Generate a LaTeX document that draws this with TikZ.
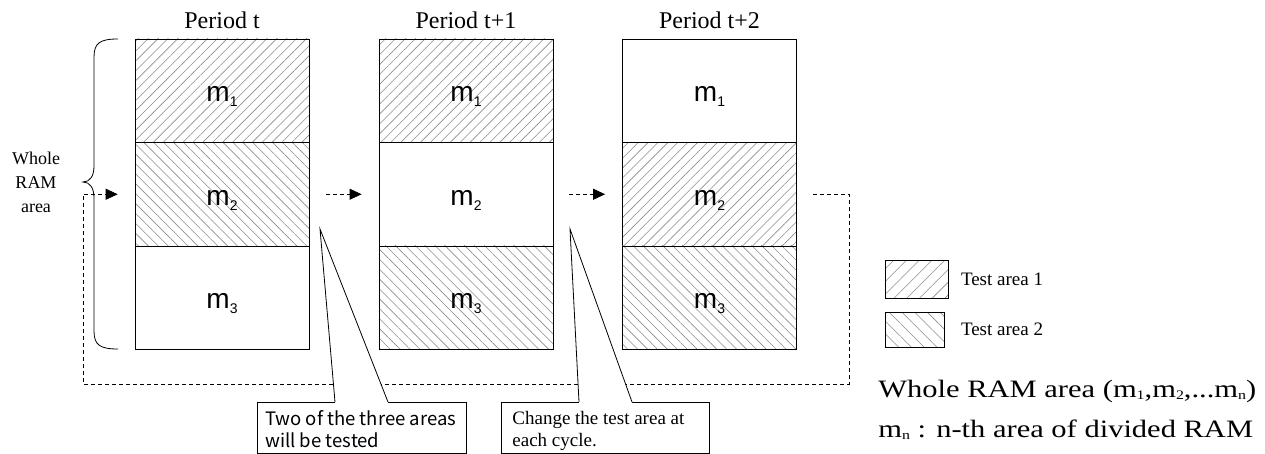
\documentclass[tikz,border=0pt]{standalone}
\usepackage{graphicx}
\usepackage{fontspec}
\setmainfont{Liberation Serif}
\newfontfamily\cellfont{Liberation Sans}
\newfontfamily\gothfont{Noto Sans CJK JP}
\usetikzlibrary{positioning,calc,arrows.meta,patterns.meta}

\newcommand{\msub}[1]{m\raisebox{-5pt}{\fontsize{14}{14}\selectfont #1}}
\newcommand{\tsub}[1]{\raisebox{-2pt}{\fontsize{13}{13}\selectfont #1}}

\tikzset{
  cell/.style={draw, minimum width=174pt, minimum height=103.5pt, inner sep=0pt,
    text height=22pt, text depth=0pt, font=\cellfont\fontsize{28}{28}\selectfont},
  plain/.style={},
  area1/.style={pattern={Lines[angle=45,distance=#1,line width=0.6pt]}, pattern color=black!45},
  area1/.default=7pt,
  area2/.style={pattern={Lines[angle=-45,distance=#1,line width=0.6pt]}, pattern color=black!45},
  area2/.default=7pt,
  flow/.style={dash pattern=on 4pt off 3pt, -{Triangle[length=12pt,width=11pt]}},
  notebox/.style={draw, fill=white, inner sep=0pt, minimum height=51pt, anchor=north west},
  notetext/.style={inner sep=0pt, align=left, anchor=north west},
}

\begin{document}
\begin{tikzpicture}[x=1pt, y=-1pt, line width=0.8pt]
    \useasboundingbox (0,0) rectangle (1265,454);

    % memory columns
    \foreach \i/\x/\per/\sa/\sb/\sc in {1/222/t/area1/area2/plain,
                                        2/466/t+1/area1/plain/area2,
                                        3/709.5/t+2/plain/area1/area2} {
        \node[cell, \sa] (p\i-m1) at (\x,90.75) {\msub{1}};
        \node[cell, \sb] (p\i-m2) at (\x,194.25) {\msub{2}};
        \node[cell, \sc] (p\i-m3) at (\x,297.75) {\msub{3}};
        \node[font=\fontsize{24}{24}\selectfont, anchor=base] (per\i) at (\x,29) {Period \per};
    }

    % whole RAM brace
    \draw (118,39) .. controls (100,39) and (94,43) .. (94,57) -- (94,166)
        .. controls (94,176) and (90,182) .. (83,182)
        .. controls (90,182) and (94,188) .. (94,198) -- (94,331)
        .. controls (94,345) and (100,349) .. (118,349);
    \node[font=\fontsize{18}{24}\selectfont, align=center] (wholelbl) at (36,182) {Whole\\RAM\\area};

    % cycle arrows
    \coordinate (loopR) at (849,384);
    \coordinate (loopL) at (83,384);
    \draw[flow] ([xshift=17pt]p1-m2.east) -- ([xshift=-17pt]p2-m2.west);
    \draw[flow] ([xshift=16pt]p2-m2.east) -- ([xshift=-17pt]p3-m2.west);
    \draw[flow] ([xshift=16pt]p3-m2.east) -| (loopR) -- (loopL) |- ([xshift=-17pt]p1-m2.west);

    % callouts
    \node[notebox, minimum width=209pt] (note1) at (257,402) {};
    \node[notebox, minimum width=208pt] (note2) at (501,402) {};
    \coordinate (tip1) at (320,229);
    \coordinate (tip2) at (570,229);
    \foreach \n/\t in {note1/tip1, note2/tip2} {
        \fill[white] ($(\n.north west)+(78,0)$) -- (\t) -- ($(\n.north west)+(131,0)$)
            -- ++(0,1.5) -- ($(\n.north west)+(78,1.5)$) -- cycle;
        \draw ($(\n.north west)+(78,0)$) -- (\t) -- ($(\n.north west)+(131,0)$);
    }
    \node[notetext, font=\gothfont\fontsize{18.5}{22}\selectfont] (note1txt)
        at ([shift={(8,8)}]note1.north west) {Two of the three areas\\will be tested};
    \node[notetext, font=\fontsize{19}{22}\selectfont] (note2txt)
        at ([shift={(11,9)}]note2.north west) {Change the test area at\\each cycle.};

    % legend
    \node[draw, area1=9pt, minimum width=63pt, minimum height=38pt, anchor=north west] (leg1) at (885,260) {};
    \node[draw, area2=9pt, minimum width=59pt, minimum height=35pt, anchor=north west] (leg2) at (885,312) {};
    \node[right=12pt of leg1, inner sep=0pt, font=\fontsize{19}{19}\selectfont] (leg1txt) {Test area 1};
    \node[right=16pt of leg2, inner sep=0pt, font=\fontsize{19}{19}\selectfont] (leg2txt) {Test area 2};

    \node[anchor=base west, inner sep=0pt, font=\fontsize{25}{25}\selectfont] (ramall) at (878,397)
        {\scalebox{1.22}[1]{Whole RAM area (m\tsub{1},m\tsub{2},...m\tsub{n})}};
    \node[anchor=base west, inner sep=0pt, font=\fontsize{25}{25}\selectfont] (ramdef) at (878,437)
        {\scalebox{1.22}[1]{m\tsub{n} : n-th area of divided RAM}};
\end{tikzpicture}
\end{document}
